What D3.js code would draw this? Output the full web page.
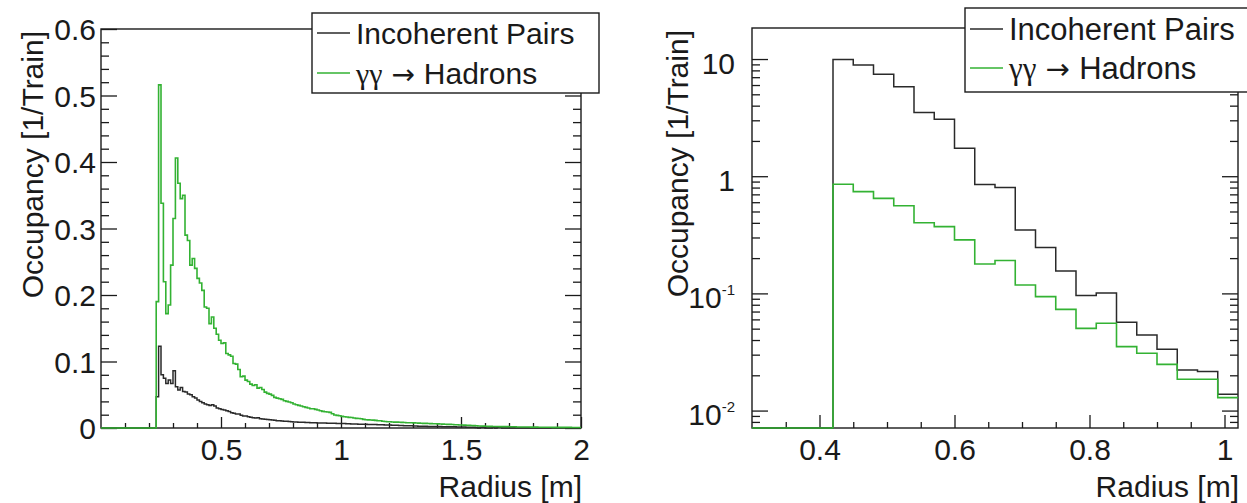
<!DOCTYPE html>
<html>
<head>
<meta charset="utf-8">
<script src="https://cdn.jsdelivr.net/npm/d3@7"></script>
<style>
html,body{margin:0;padding:0;background:#fff;}
svg{display:block;}
</style>
</head>
<body>
<svg id="chart" width="1247" height="503"></svg>
<script>
// ---------------- data ----------------
const binStartLeft = 0.23;
const binWidthLeft = 0.01;
// Incoherent pairs, left panel (bins from 0.23 m, width 0.01 m)
const pairsLeft = [
  0.047, 0.123, 0.08, 0.075, 0.067, 0.072, 0.067, 0.086, 0.062, 0.057,
  0.061, 0.055, 0.054, 0.051, 0.05, 0.047, 0.045, 0.042, 0.04, 0.038,
  0.036, 0.035, 0.034, 0.035, 0.033, 0.03, 0.029, 0.028, 0.027, 0.026,
  0.025, 0.023, 0.022, 0.021, 0.021, 0.019, 0.018, 0.018, 0.017, 0.016,
  0.0155, 0.015, 0.0155, 0.014, 0.0135, 0.013, 0.0128, 0.0125, 0.012, 0.0115,
  0.011, 0.0108, 0.0105, 0.0102, 0.01, 0.0097, 0.0094, 0.0091, 0.009, 0.0088,
  0.0086, 0.0085, 0.0083, 0.0082, 0.008, 0.0079, 0.0078, 0.0077, 0.0076, 0.0075,
  0.0074, 0.0073, 0.0072, 0.0071, 0.007, 0.0069, 0.0068, 0.0067, 0.0066, 0.0065,
  0.0064, 0.0062, 0.0061, 0.006, 0.0058, 0.0057, 0.0056, 0.0055, 0.0054, 0.0053,
  0.0052, 0.0051, 0.005, 0.0049, 0.0048, 0.0047, 0.0045, 0.0044, 0.0042, 0.0041,
  0.004, 0.0038, 0.0037, 0.0035, 0.0034, 0.0033, 0.0032, 0.003, 0.0029, 0.0028,
  0.0027, 0.0026, 0.0025, 0.0024, 0.0024, 0.0023, 0.0022, 0.0021, 0.0021, 0.002,
  0.002, 0.0019, 0.0018, 0.0018, 0.0017, 0.0016, 0.0016, 0.0015, 0.0014, 0.0013,
  0.0012, 0.0011, 0.001, 0.0008, 0, 0.0012, 0.0012, 0, 0, 0,
  0.0012, 0, 0.0012, 0.0012, 0, 0, 0, 0, 0, 0,
  0, 0, 0, 0, 0, 0, 0, 0, 0, 0,
  0, 0, 0, 0, 0, 0, 0, 0, 0, 0,
  0, 0, 0, 0, 0, 0, 0
];
// gamma gamma -> hadrons, left panel
const hadronsLeft = [
  0.19, 0.516, 0.338, 0.22, 0.172, 0.185, 0.245, 0.315, 0.406, 0.368,
  0.345, 0.35, 0.29, 0.282, 0.245, 0.255, 0.24, 0.225, 0.218, 0.207,
  0.182, 0.18, 0.157, 0.167, 0.15, 0.141, 0.132, 0.127, 0.128, 0.112,
  0.11, 0.108, 0.097, 0.096, 0.088, 0.077, 0.078, 0.072, 0.07, 0.066,
  0.064, 0.065, 0.06, 0.061, 0.058, 0.054, 0.052, 0.051, 0.049, 0.046,
  0.045, 0.044, 0.043, 0.041, 0.04, 0.039, 0.038, 0.036, 0.035, 0.034,
  0.033, 0.032, 0.031, 0.03, 0.029, 0.029, 0.028, 0.027, 0.026, 0.025,
  0.0245, 0.024, 0.0235, 0.0215, 0.0195, 0.019, 0.0185, 0.0175, 0.017, 0.0165,
  0.016, 0.0158, 0.015, 0.0145, 0.0142, 0.0138, 0.013, 0.0125, 0.0122, 0.012,
  0.0118, 0.0115, 0.011, 0.0108, 0.0102, 0.0098, 0.0095, 0.0093, 0.009, 0.0088,
  0.0088, 0.0086, 0.0084, 0.0082, 0.008, 0.0079, 0.0078, 0.0077, 0.0075, 0.0074,
  0.0072, 0.007, 0.0069, 0.0068, 0.0066, 0.0065, 0.0063, 0.0062, 0.006, 0.0058,
  0.0057, 0.0055, 0.0054, 0.0052, 0.005, 0.0048, 0.0046, 0.0045, 0.0043, 0.0041,
  0.0039, 0.0037, 0.0035, 0.0033, 0.0031, 0.003, 0.0028, 0.0026, 0.0025, 0.0024,
  0.0023, 0.0022, 0.0022, 0.0021, 0.0021, 0.002, 0.002, 0.0019, 0.0019, 0.0018,
  0.0015, 0.0015, 0.0015, 0.0014, 0.0014, 0.0014, 0.0013, 0.0013, 0.0013, 0.0012,
  0.0012, 0.0012, 0.0011, 0.0011, 0.0011, 0.001, 0.001, 0.001, 0.001, 0.0009,
  0.0009, 0.0009, 0.0009, 0.0008, 0.0008, 0.0008, 0.0008
];

const binStartRight = 0.30;
const binWidthRight = 0.03;
const pairsRight = [0, 0, 0, 0,
  9.9, 8.9, 7.4, 5.8, 3.5, 3.06, 1.73, 0.85, 0.80, 0.347,
  0.246, 0.155, 0.096, 0.101, 0.0567, 0.0441, 0.0333, 0.0222, 0.0215, 0.0138];
const hadronsRight = [0, 0, 0, 0,
  0.853, 0.738, 0.647, 0.56, 0.401, 0.371, 0.286, 0.178, 0.191, 0.118,
  0.0938, 0.0731, 0.0503, 0.0556, 0.0351, 0.0308, 0.0248, 0.0185, 0.0185, 0.0129];

const seriesNames = ["Incoherent Pairs", "Hadrons"];
const leftXTicks = [0.5, 1, 1.5, 2];
const leftXTickLabels = ["0.5", "1", "1.5", "2"];
const leftYTicks = [0, 0.1, 0.2, 0.3, 0.4, 0.5, 0.6];
const leftYTickLabels = ["0", "0.1", "0.2", "0.3", "0.4", "0.5", "0.6"];
const rightXTicks = [0.4, 0.6, 0.8, 1.0];
const rightXTickLabels = ["0.4", "0.6", "0.8", "1"];
const rightYTicks = [0.01, 0.1, 1, 10];
const rightYTickBase = ["10", "10", "1", "10"];
const rightYTickExp = ["-2", "-1", "", ""];
const xTitle = "Radius [m]";
const yTitle = "Occupancy [1/Train]";

// ---------------- styles ----------------
const FONT = "'Liberation Sans', Arial, Helvetica, sans-serif";
const INK = "#1a1a1a";
const PAIRS_COLOR = "#2a2a2a";
const HADRONS_COLOR = "#33b233";

const svg = d3.select("#chart");

function styleAxis(g) {
  g.select(".domain").remove();
  g.attr("font-family", FONT).attr("font-size", 30).attr("color", INK);
  g.selectAll(".tick line").attr("stroke-width", 1.3);
}

function histPath(x, y, start, width, vals, xmin, floor) {
  const pts = [[xmin, floor], [start, floor]];
  vals.forEach((v, i) => {
    const a = start + i * width;
    pts.push([a, v], [a + width, v]);
  });
  return d3.line().x(d => x(d[0])).y(d => y(Math.max(d[1], floor)))(pts);
}

function drawPanel(cfg) {
  const g = svg.append("g");
  const { x, y } = cfg;
  const [x0, x1] = x.range();
  const [y0, y1] = y.range(); // y0 bottom, y1 top

  // frame
  g.append("rect").attr("x", x0).attr("y", y1).attr("width", x1 - x0).attr("height", y0 - y1)
    .attr("fill", "none").attr("stroke", INK).attr("stroke-width", 1.4);

  // bottom axis: major with labels, minors
  const bx = g.append("g").attr("transform", `translate(0,${y0})`)
    .call(d3.axisBottom(x).tickValues(cfg.xTicks).tickSize(-cfg.xMajor).tickPadding(11)
      .tickFormat((d, i) => cfg.xLabels[i]));
  styleAxis(bx);
  const bxm = g.append("g").attr("transform", `translate(0,${y0})`)
    .call(d3.axisBottom(x).tickValues(cfg.xMinor).tickSize(-cfg.xMinorLen).tickFormat(""));
  styleAxis(bxm);

  // left axis
  const ly = g.append("g").attr("transform", `translate(${x0},0)`)
    .call(d3.axisLeft(y).tickValues(cfg.yTicks).tickSize(-cfg.yMajor).tickPadding(cfg.yPad)
      .tickFormat(""));
  styleAxis(ly);
  ly.selectAll(".tick text").attr("dy", cfg.yDy).each(function (d, i) {
    const t = d3.select(this);
    t.append("tspan").text(cfg.yLabelBase[i]);
    if (cfg.yLabelExp && cfg.yLabelExp[i]) {
      t.append("tspan").attr("font-size", 15).attr("dy", "-0.9em").text(cfg.yLabelExp[i]);
    }
  });
  const lym = g.append("g").attr("transform", `translate(${x0},0)`)
    .call(d3.axisLeft(y).tickValues(cfg.yMinor).tickSize(-cfg.yMinorLen).tickFormat(""));
  styleAxis(lym);

  // right mirrored ticks
  const ry = g.append("g").attr("transform", `translate(${x1},0)`)
    .call(d3.axisLeft(y).tickValues(cfg.yTicks).tickSize(cfg.yMajor).tickFormat(""));
  styleAxis(ry);
  const rym = g.append("g").attr("transform", `translate(${x1},0)`)
    .call(d3.axisLeft(y).tickValues(cfg.yMinor).tickSize(cfg.yMinorLen).tickFormat(""));
  styleAxis(rym);

  // histograms
  const floor = y.domain()[0];
  g.append("path").attr("d", histPath(x, y, cfg.start, cfg.width, cfg.pairs, x.domain()[0], floor))
    .attr("fill", "none").attr("stroke", PAIRS_COLOR).attr("stroke-width", 1.5);
  g.append("path").attr("d", histPath(x, y, cfg.start, cfg.width, cfg.hadrons, x.domain()[0], floor))
    .attr("fill", "none").attr("stroke", HADRONS_COLOR).attr("stroke-width", 1.6);

  // axis titles
  g.append("text").attr("x", x1 + 1).attr("y", 497).attr("text-anchor", "end")
    .attr("font-family", FONT).attr("font-size", 30).attr("fill", INK).text(xTitle);
  g.append("text").attr("transform", `translate(${cfg.yTitleX},${y1 + 2}) rotate(-90)`)
    .attr("text-anchor", "end")
    .attr("font-family", FONT).attr("font-size", 30).attr("fill", INK).text(yTitle);

  // legend
  const L = cfg.legend;
  const lg = svg.append("g");
  lg.append("rect").attr("x", L.x).attr("y", L.y).attr("width", L.w).attr("height", L.h)
    .attr("fill", "#fff").attr("stroke", INK).attr("stroke-width", 1.4);
  const colors = [PAIRS_COLOR, HADRONS_COLOR];
  seriesNames.forEach((name, i) => {
    const cy = L.rows[i];
    lg.append("line").attr("x1", L.x + 5).attr("x2", L.x + 38).attr("y1", cy).attr("y2", cy)
      .attr("stroke", colors[i]).attr("stroke-width", 1.6);
    const t = lg.append("text").attr("x", L.x + 44).attr("y", cy + 11)
      .attr("font-family", FONT).attr("font-size", L.font).attr("fill", INK);
    if (i === 1) {
      t.append("tspan").attr("font-family", "'Liberation Serif', 'DejaVu Serif', serif").text("γγ");
      t.append("tspan").attr("font-family", "'DejaVu Sans', sans-serif").attr("font-size", L.font - 2).text(" → ");
      t.append("tspan").text(name);
    } else {
      t.text(name);
    }
  });
}

// left panel: linear
const xL = d3.scaleLinear().domain([0, 2]).range([101, 581]);
const yL = d3.scaleLinear().domain([0, 0.6]).range([428, 29]);
drawPanel({
  x: xL, y: yL,
  xTicks: leftXTicks, xLabels: leftXTickLabels,
  xMinor: d3.range(1, 20).map(i => i / 10).filter(v => Math.abs(v * 2 - Math.round(v * 2)) > 1e-6),
  xMajor: 11, xMinorLen: 5,
  yTicks: leftYTicks, yLabelBase: leftYTickLabels, yLabelExp: null,
  yMinor: d3.range(1, 30).map(i => i / 50).filter(v => Math.abs(v * 10 - Math.round(v * 10)) > 1e-6),
  yMajor: 16, yMinorLen: 8, yPad: 5, yDy: "0.36em",
  start: binStartLeft, width: binWidthLeft, pairs: pairsLeft, hadrons: hadronsLeft,
  yTitleX: 43,
  legend: { x: 312, y: 13, w: 287, h: 80, rows: [33, 73], font: 30 }
});

// right panel: log
const xR = d3.scaleLinear().domain([0.3, 1.02]).range([752, 1238]);
const yR = d3.scaleLog().domain([0.0071, 18.4]).range([428, 28]);
const logMinor = [];
[0.001, 0.01, 0.1, 1, 10].forEach(dec => {
  for (let m = 2; m <= 9; m++) {
    const v = m * dec;
    if (v > 0.0071 && v < 18.4) logMinor.push(v);
  }
});
drawPanel({
  x: xR, y: yR,
  xTicks: rightXTicks, xLabels: rightXTickLabels,
  xMinor: d3.range(7, 21).map(i => i * 0.05).filter(v => Math.abs(v * 5 - Math.round(v * 5)) > 1e-6),
  xMajor: 13, xMinorLen: 6,
  yTicks: rightYTicks, yLabelBase: rightYTickBase, yLabelExp: rightYTickExp,
  yMinor: logMinor,
  yMajor: 16, yMinorLen: 8, yPad: 17, yDy: "0.48em",
  start: binStartRight, width: binWidthRight, pairs: pairsRight, hadrons: hadronsRight,
  yTitleX: 688,
  legend: { x: 965, y: 8, w: 300, h: 84, rows: [29, 68], font: 31 }
});
</script>
</body>
</html>
